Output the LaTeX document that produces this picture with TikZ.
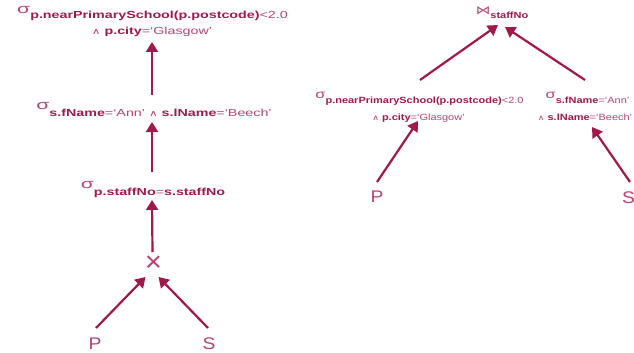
\documentclass[tikz,border=0pt]{standalone}
\usepackage{fontspec}
\setmainfont{Liberation Sans}
\newfontfamily\symf{DejaVu Sans}
\usepackage{graphicx}
\usetikzlibrary{arrows.meta,calc}

\definecolor{crim}{RGB}{163,24,76}
\definecolor{crimlt}{RGB}{188,66,116}

% horizontally widened text
\newcommand\hx[2]{\scalebox{#1}[1]{#2}}
% bold attribute names
\newcommand\bo[1]{{\bfseries\color{crim}#1}}
% selection sigma, size and lift
\newcommand\sig[2]{\raisebox{#2}{\scalebox{1.12}[1]{\fontsize{#1}{#1}\selectfont σ}}}
% logical and
\newcommand\andop[1]{{\symf\fontsize{#1}{#1}\selectfont ∧}}
% join symbol
\newcommand\joinop[2]{\raisebox{#2}{\symf\fontsize{#1}{#1}\selectfont ⋈}}

\tikzset{
  lbl/.style={inner sep=0pt, outer sep=0pt, text=crimlt},
  bigfont/.style={font=\fontsize{10.2}{12}\selectfont},
  smallfont/.style={font=\fontsize{9}{11}\selectfont},
  relname/.style={lbl, font=\fontsize{16.8}{17}\selectfont},
  arr/.style={draw=crim, line width=2.2pt, -{Triangle[length=10pt,width=12pt]}}
}

\begin{document}
\begin{tikzpicture}[x=1pt,y=-1pt]
\fill[white] (0,0) rectangle (634,353);
\useasboundingbox (0,0) rectangle (634,353);

% ---- left tree: selections stacked over a cartesian product ----
\node[lbl, bigfont, anchor=base] (top1) at (152.5,19)
  {\hx{1.4}{\sig{13.5}{5.5pt}\bo{p.nearPrimarySchool(p.postcode)}<2.0}};
\node[lbl, bigfont, anchor=base] (top2) at (152,35)
  {\hx{1.4}{\andop{8.5} \bo{p.city}=‘Glasgow’}};
\node[lbl, bigfont, anchor=base] (mid) at (154,116)
  {\hx{1.4}{\sig{13.5}{6.2pt}\bo{s.fName}=‘Ann’ \andop{8.5} \bo{s.lName}=‘Beech’}};
\node[lbl, bigfont, anchor=base] (staff) at (153,195)
  {\hx{1.4}{\sig{13.5}{6.5pt}\bo{p.staffNo}=\bo{s.staffNo}}};
\node[lbl, font=\fontsize{28}{28}\selectfont] (cross) at (153.5,264) {\hx{1.05}{×}};
\node[relname, anchor=base] (P) at (95,349) {\hx{1.15}{P}};
\node[relname, anchor=base] (S) at (209,349) {\hx{1.15}{S}};

\draw[arr] ([shift={(1,-21)}]P.base) -- ([shift={(-8,13)}]cross.center);
\draw[arr] ([shift={(-1,-21)}]S.base) -- ([shift={(5,13)}]cross.center);
\draw[arr] ([shift={(-1,-12)}]cross.center) -- ([shift={(-1,5)}]staff.base);
\draw[arr] ([shift={(-1,-23)}]staff.base) -- ([shift={(-2,6)}]mid.base);
\draw[arr] ([shift={(-2,-21)}]mid.base) -- ([shift={(0,7)}]top2.base);

% ---- right tree: selections pushed below the join ----
\node[lbl, smallfont, anchor=base] (join) at (502,19)
  {\hx{1.22}{\joinop{12}{4.5pt}\bo{staffNo}}};
\node[lbl, smallfont, anchor=base] (rtop1) at (419.5,103)
  {\hx{1.22}{\sig{12}{5pt}\bo{p.nearPrimarySchool(p.postcode)}<2.0}};
\node[lbl, smallfont, anchor=base] (rtop2) at (418.5,120)
  {\hx{1.22}{\andop{7.5} \bo{p.city}=‘Glasgow’}};
\node[lbl, smallfont, anchor=base] (rs1) at (587.5,103)
  {\hx{1.22}{\sig{12}{5pt}\bo{s.fName}=‘Ann’}};
\node[lbl, smallfont, anchor=base] (rs2) at (585,120)
  {\hx{1.22}{\andop{7.5} \bo{s.lName}=‘Beech’}};
\node[relname, anchor=base] (rP) at (377,202) {\hx{1.15}{P}};
\node[relname, anchor=base] (rS) at (628.5,203) {\hx{1.15}{S}};

\draw[arr] ([shift={(0.5,-23)}]rtop1.base) -- ([shift={(-4,6)}]join.base);
\draw[arr] ([shift={(-2.5,-23)}]rs1.base) -- ([shift={(3,8)}]join.base);
\draw[arr] ([shift={(0,-20)}]rP.base) -- ([shift={(-0.5,1)}]rtop2.base);
\draw[arr] ([shift={(1.5,-21)}]rS.base) -- ([shift={(7,7)}]rs2.base);
\end{tikzpicture}
\end{document}
